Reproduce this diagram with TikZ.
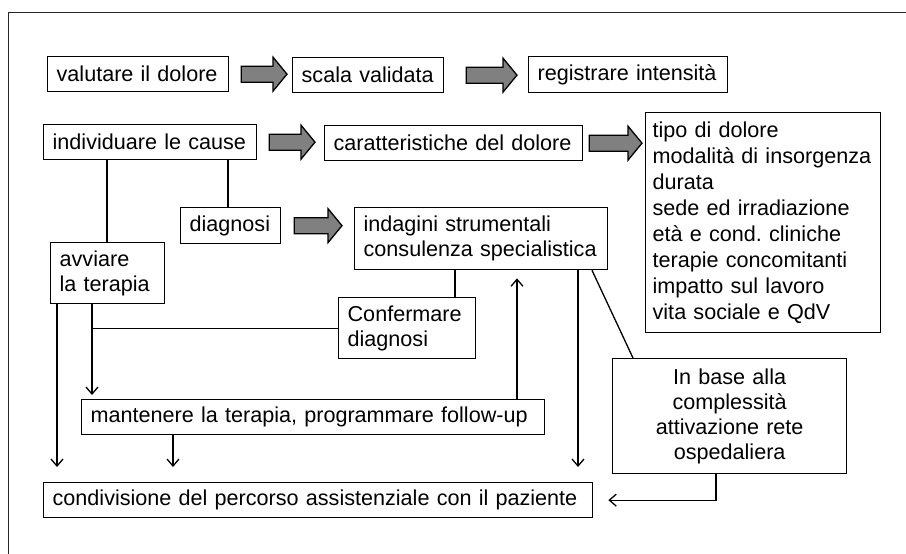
\documentclass[tikz,border=0pt]{standalone}
\usepackage{fontspec}
\setmainfont{Liberation Sans}
\usetikzlibrary{arrows.meta,calc}
\frenchspacing
\newcommand\fsz{\fontsize{21.6}{25}\selectfont}
% block arrow: from node #1 to node #2, gaps #3 and #4
\newcommand\blkarrow[4]{%
  \path (#1.east) ++(#3,0) coordinate (ba1);
  \path (#2.west |- #1.east) ++(-#4,0) coordinate (ba2);
  \draw[blk] ([yshift=8pt]ba1) -- ([xshift=-14pt,yshift=8pt]ba2) -- ([xshift=-14pt,yshift=17pt]ba2)
    -- (ba2) -- ([xshift=-14pt,yshift=-17pt]ba2) -- ([xshift=-14pt,yshift=-8pt]ba2) -- ([yshift=-8pt]ba1) -- cycle;}
\begin{document}
\begin{tikzpicture}[x=1pt,y=-1pt,
  box/.style={draw, line width=1.3pt, inner xsep=9pt, inner ysep=0pt, anchor=north west, align=left, font=\fsz},
  conn/.style={line width=1.3pt},
  arr/.style={conn, -{Straight Barb[length=7pt,width=12pt,line width=1.3pt]}},
  blk/.style={draw, line width=1.3pt, fill=black!50, line join=miter}]
\useasboundingbox (0,0) rectangle (906,554);
\draw[line width=1pt, black!85] (8,560) -- (8,12) -- (910,12);

\node[box, text width=163pt, minimum height=35pt] (val) at (47,56) {valutare il dolore};
\node[box, text width=133pt, minimum height=35pt] (scala) at (292,57) {scala validata};
\node[box, text width=181pt, minimum height=36pt] (reg) at (528,56) {registrare intensità};
\node[box, text width=195pt, minimum height=35pt] (ind) at (43,124) {individuare le cause};
\node[box, text width=240pt, minimum height=35pt] (car) at (324,125) {caratteristiche del dolore};
\node[box, inner xsep=7pt, text width=221pt, minimum height=220pt, font=\fontsize{21.6}{26}\selectfont] (big) at (645,112)
  {tipo di dolore\\modalità di insorgenza\\durata\\sede ed irradiazione\\età e cond. cliniche\\terapie concomitanti\\impatto sul lavoro\\vita sociale e QdV};
\node[box, text width=82pt, minimum height=36pt] (diag) at (180,207) {diagnosi};
\node[box, text width=235pt, minimum height=62pt] (indag) at (354,207) {indagini strumentali\\consulenza specialistica};
\node[box, text width=96pt, minimum height=61pt] (avv) at (50,242) {avviare\\la terapia};
\node[box, text width=119pt, minimum height=61pt] (conf) at (338,297) {Confermare\\diagnosi};
\node[box, text width=445pt, minimum height=35pt] (mant) at (81,399) {mantenere la terapia, programmare follow-up};
\node[box, align=center, text width=216pt, minimum height=115pt] (inb) at (612,358) {In base alla\\complessità\\attivazione rete\\ospedaliera};
\node[box, text width=531pt, minimum height=35pt] (cond) at (43,482) {condivisione del percorso assistenziale con il paziente};

\blkarrow{val}{scala}{12}{5}
\blkarrow{scala}{reg}{22}{11}
\blkarrow{ind}{car}{12}{9}
\blkarrow{car}{big}{6}{3}
\blkarrow{diag}{indag}{13}{12}

\draw[conn] (107,0 |- ind.south) -- (107,0 |- avv.north);
\draw[conn] (228,0 |- ind.south) -- (228,0 |- diag.north);
\draw[conn] (455,0 |- indag.south) -- (455,0 |- conf.north);
\draw[conn] (conf.west) -- (92,0 |- conf.west);
\draw[arr, shorten >=4pt] (92,0 |- avv.south) -- (92,0 |- mant.north);
\draw[arr, shorten >=15pt] (57,0 |- avv.south) -- (57,0 |- cond.north);
\draw[arr, shorten >=15pt] (173,0 |- mant.south) -- (173,0 |- cond.north);
\draw[arr, shorten >=15pt] (578,0 |- indag.south) -- (578,0 |- cond.north);
\draw[arr, shorten >=8pt] (517,0 |- mant.north) -- (517,0 |- indag.south);
\draw[conn] (592,0 |- indag.south) -- (633,0 |- inb.north);
\draw[arr, shorten >=15pt] (716,0 |- inb.south) |- (cond.east);
\end{tikzpicture}
\end{document}
